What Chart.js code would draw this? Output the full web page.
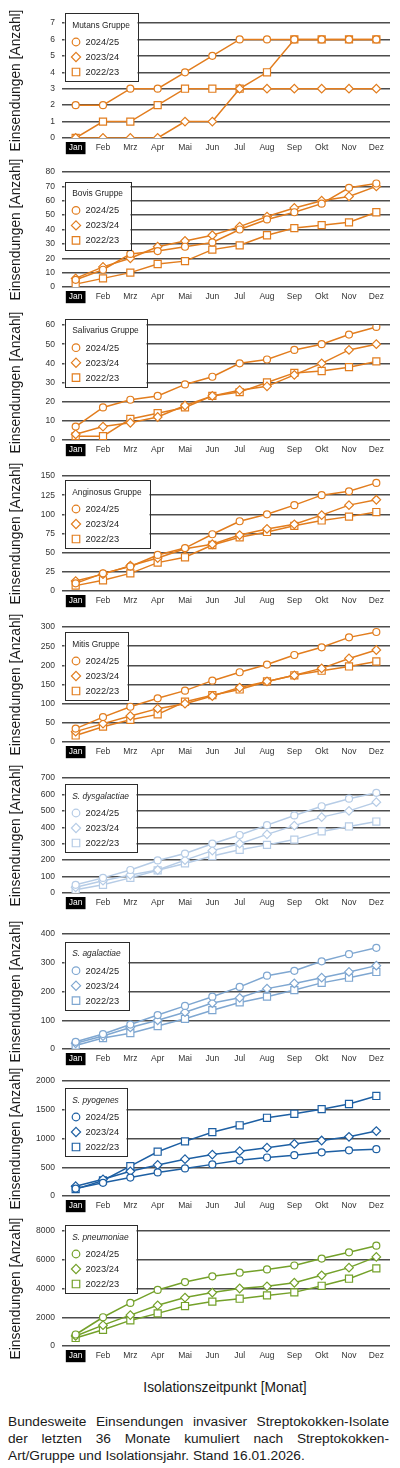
<!DOCTYPE html>
<html><head><meta charset="utf-8">
<script src="https://cdn.jsdelivr.net/npm/chart.js@4"></script>
<style>
html,body{margin:0;padding:0;background:#fff;}
body{width:400px;height:1468px;position:relative;overflow:hidden;font-family:"Liberation Sans",Arial,sans-serif;color:#1a1a1a;}
canvas{position:absolute;left:0;}
#xtitle{position:absolute;left:100px;width:250px;top:1380px;line-height:16px;font-size:13.8px;text-align:center;white-space:nowrap;}
#caption{position:absolute;left:8px;width:381px;top:1412.5px;font-size:13.7px;line-height:17px;}
#caption div{white-space:nowrap;}
#caption .j{text-align:justify;text-align-last:justify;white-space:normal;}
</style></head>
<body>
<div id="xtitle">Isolationszeitpunkt [Monat]</div>
<div id="caption">
<div class="j">Bundesweite Einsendungen invasiver Streptokokken-Isolate</div>
<div class="j">der letzten 36 Monate kumuliert nach Streptokokken-</div>
<div>Art/Gruppe und Isolationsjahr. Stand 16.01.2026.</div>
</div>
<script>
const months = ['Jan','Feb','Mrz','Apr','Mai','Jun','Jul','Aug','Sep','Okt','Nov','Dez'];
const seasons = ['2024/25','2023/24','2022/23'];

const mutans_2425 = [2,2,3,3,4,5,6,6,6,6,6,6];
const mutans_2324 = [0,0,0,0,1,1,3,3,3,3,3,3];
const mutans_2223 = [0,1,1,2,3,3,3,4,6,6,6,6];

const bovis_2425 = [5,12,23,25,28,31,40,47,52,58,69,72];
const bovis_2324 = [6,14,20,28,32,36,42,49,55,60,63,70];
const bovis_2223 = [2,6,10,16,18,26,29,36,41,43,45,52];

const salivarius_2425 = [7,17,21,23,29,33,40,42,47,50,55,59];
const salivarius_2324 = [3,7,9,12,18,23,26,28,34,40,47,50];
const salivarius_2223 = [2,2,11,14,17,23,25,30,35,36,38,41];

const anginosus_2425 = [10,23,32,47,56,74,91,100,112,125,130,141];
const anginosus_2324 = [13,22,33,43,55,61,73,81,87,99,112,119];
const anginosus_2223 = [7,14,23,37,44,60,70,77,85,92,97,103];

const mitis_2425 = [35,65,92,114,134,160,182,202,227,247,273,287];
const mitis_2324 = [27,48,68,87,100,120,142,158,174,192,218,240];
const mitis_2223 = [17,40,58,72,105,122,137,158,174,186,197,210];

const dysgalactiae_2425 = [50,92,140,198,240,300,353,413,472,528,574,610];
const dysgalactiae_2324 = [35,75,110,140,200,258,300,357,410,462,500,553];
const dysgalactiae_2223 = [20,50,92,138,180,225,263,293,325,375,405,435];

const agalactiae_2425 = [25,52,85,118,150,182,216,255,272,305,330,352];
const agalactiae_2324 = [20,45,75,100,128,160,178,210,228,248,268,290];
const agalactiae_2223 = [12,38,55,80,105,135,162,182,205,230,248,268];

const pyogenes_2425 = [130,230,320,410,480,550,620,670,710,760,795,815];
const pyogenes_2324 = [170,290,430,540,640,720,780,840,905,965,1030,1130];
const pyogenes_2223 = [120,270,520,770,950,1110,1230,1360,1430,1510,1600,1740];

const pneumoniae_2425 = [800,2000,3000,3900,4450,4850,5100,5330,5600,6080,6520,6980];
const pneumoniae_2324 = [700,1450,2150,2830,3370,3720,4000,4150,4400,4920,5450,6200];
const pneumoniae_2223 = [560,1130,1780,2270,2780,3090,3290,3520,3730,4190,4680,5400];

const panelTitles = ['Mutans Gruppe','Bovis Gruppe','Salivarius Gruppe','Anginosus Gruppe','Mitis Gruppe','S. dysgalactiae','S. agalactiae','S. pyogenes','S. pneumoniae'];
const panelData = [
  [mutans_2425,mutans_2324,mutans_2223],
  [bovis_2425,bovis_2324,bovis_2223],
  [salivarius_2425,salivarius_2324,salivarius_2223],
  [anginosus_2425,anginosus_2324,anginosus_2223],
  [mitis_2425,mitis_2324,mitis_2223],
  [dysgalactiae_2425,dysgalactiae_2324,dysgalactiae_2223],
  [agalactiae_2425,agalactiae_2324,agalactiae_2223],
  [pyogenes_2425,pyogenes_2324,pyogenes_2223],
  [pneumoniae_2425,pneumoniae_2324,pneumoniae_2223]
];
const axisMax = [7,80,60,150,300,700,400,2000,8000];
const axisStep = [1,10,10,25,50,100,100,500,2000];

// styles
const panelItalic = [false,false,false,false,false,true,true,true,true];
const orange = '#E27D1E';
const panelColors = [orange,orange,orange,orange,orange,'#B6CCE6','#7FA7D1','#1D5FA3','#74A12A'];
const chartTops = [22.7,172.3,325,475.7,626.7,777.7,934,1080.7,1230.7];
const legendOffsets = [-9.7,9.7,-6,4.3,5.3,6.3,8,7.3,-5.7];
const pointStyles = ['circle','rectRot','rect'];
const pointRadii = [3.5,4.3,5];

const FONT = '"Liberation Sans", Arial, sans-serif';

function marker(ctx, style, x, y, r) {
  ctx.beginPath();
  if (style === 'circle') {
    ctx.arc(x, y, r, 0, Math.PI * 2);
  } else if (style === 'rectRot') {
    ctx.moveTo(x, y - r); ctx.lineTo(x + r, y); ctx.lineTo(x, y + r); ctx.lineTo(x - r, y); ctx.closePath();
  } else {
    const s = r * Math.SQRT1_2;
    ctx.rect(x - s, y - s, 2 * s, 2 * s);
  }
  ctx.fill(); ctx.stroke();
}

const boxLegend = {
  id: 'boxLegend',
  afterDraw(chart, args, opts) {
    const {ctx, chartArea} = chart;
    const x0 = chartArea.left + 2.5;
    const y0 = chartArea.top + opts.top;
    ctx.save();
    const titleFont = (opts.italic ? 'italic ' : '') + '8.4px ' + FONT;
    const itemFont = '9.3px ' + FONT;
    ctx.font = titleFont;
    const tw = ctx.measureText(opts.title).width;
    ctx.font = itemFont;
    let lw = 0;
    chart.data.datasets.forEach(d => { lw = Math.max(lw, ctx.measureText(d.label).width); });
    const w = Math.round(Math.max(7.7 + tw, 21 + lw) + 7.5);
    const h = 68;
    ctx.fillStyle = '#fff';
    ctx.fillRect(x0, y0, w, h);
    ctx.strokeStyle = '#2b2b2b';
    ctx.lineWidth = 1;
    ctx.strokeRect(Math.round(x0) + 0.5, Math.round(y0) + 0.5, w, h);
    ctx.fillStyle = '#262626';
    ctx.textBaseline = 'middle';
    ctx.textAlign = 'left';
    ctx.font = titleFont;
    ctx.fillText(opts.title, x0 + 7.7, y0 + 12);
    chart.data.datasets.forEach((d, i) => {
      const cy = y0 + 28.7 + 15 * i;
      ctx.fillStyle = '#fff';
      ctx.strokeStyle = d.borderColor;
      ctx.lineWidth = 1.2;
      marker(ctx, d.pointStyle, x0 + 11.5, cy, d.pointRadius + 0.3);
      ctx.fillStyle = '#262626';
      ctx.font = itemFont;
      ctx.fillText(d.label, x0 + 21, cy + 0.5);
    });
    ctx.restore();
  }
};

panelData.forEach((series, p) => {
  const cv = document.createElement('canvas');
  cv.width = 400; cv.height = 152;
  cv.style.width = '400px'; cv.style.height = '152px';
  cv.style.top = (chartTops[p] - 14) + 'px';
  document.body.appendChild(cv);
  const color = panelColors[p];
  new Chart(cv, {
    type: 'line',
    data: {
      labels: months,
      datasets: series.map((vals, i) => ({
        label: seasons[i],
        data: vals,
        borderColor: color,
        backgroundColor: color,
        borderWidth: 1.5,
        pointStyle: pointStyles[i],
        pointRadius: pointRadii[i],
        pointBackgroundColor: '#fff',
        pointBorderColor: color,
        pointBorderWidth: 1.2,
        tension: 0,
        fill: false
      }))
    },
    options: {
      responsive: false,
      animation: false,
      devicePixelRatio: 1,
      layout: {padding: {top: 14, right: 10, left: 0, bottom: 0}},
      plugins: {
        legend: {display: false},
        tooltip: {enabled: false},
        boxLegend: {title: panelTitles[p], italic: panelItalic[p], top: legendOffsets[p]}
      },
      scales: {
        x: {
          type: 'category',
          offset: true,
          grid: {display: false, drawTicks: false},
          border: {display: false},
          afterFit: s => { s.height = 23; },
          ticks: {
            autoSkip: false, maxRotation: 0, padding: 5,
            font: {family: FONT, size: 8.5},
            color: c => c.index === 0 ? '#fff' : '#333',
            showLabelBackdrop: true,
            backdropColor: c => c.index === 0 ? '#000' : 'rgba(0,0,0,0)',
            backdropPadding: {x: 3, y: 1}
          }
        },
        y: {
          min: 0, max: axisMax[p],
          afterFit: s => { s.width = 62; },
          grid: {color: '#4d4d4d', lineWidth: 1.4, drawTicks: false},
          border: {display: false},
          ticks: {stepSize: axisStep[p], padding: 7, font: {family: FONT, size: 8.5}, color: '#333', callback: v => String(v)},
          title: {display: true, text: 'Einsendungen [Anzahl]', color: '#1a1a1a', font: {family: FONT, size: 13.8}, padding: {top: 8, bottom: 0}}
        }
      }
    },
    plugins: [boxLegend]
  });
});
</script>
</body></html>
